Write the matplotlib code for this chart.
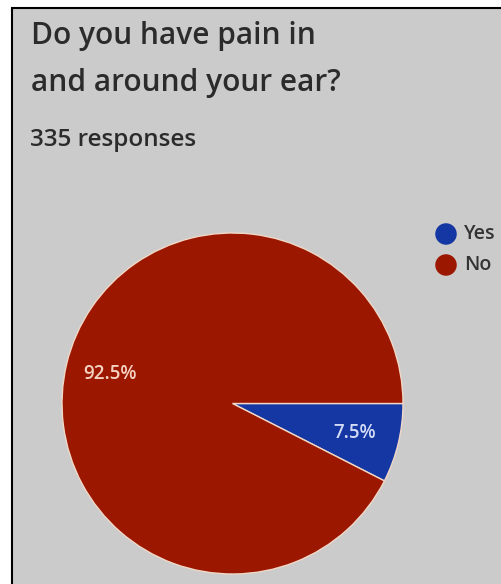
import matplotlib.pyplot as plt
from matplotlib.patches import Rectangle

# Survey answers
labels = ["Yes", "No"]
shares = [7.5, 92.5]
colors = ["#1537a3", "#9c1700"]
label_colors = ["#d3dbf6", "#f4d2c2"]

title_lines = ["Do you have pain in", "and around your ear?"]
subtitle = "335 responses"

W, H = 502, 584
fig = plt.figure(figsize=(W / 100, H / 100), dpi=100)
fig.patch.set_facecolor("white")

# Background layer in pixel units: card, headings, legend
bg = fig.add_axes([0, 0, 1, 1], zorder=0)
bg.set_xlim(0, W)
bg.set_ylim(H, 0)
bg.axis("off")
bg.add_patch(Rectangle((12, 8), W, H, facecolor="#cbcbcb",
                       edgecolor="black", linewidth=1.5))

text_kw = dict(family="Open Sans", color="#2b2b2b", va="baseline")
bg.text(31, 44, title_lines[0], fontsize=21.5, weight="semibold", **text_kw)
bg.text(31, 91, title_lines[1], fontsize=21.5, weight="semibold", **text_kw)
bg.text(30, 146, subtitle, fontsize=17.5, weight="semibold", **text_kw)

for i, (lab, col) in enumerate(zip(labels, colors)):
    y = 234 + 31 * i
    bg.scatter([446], [y], s=240, color=col, edgecolors="none")
    bg.text(464, y, lab, fontsize=14, weight="semibold", family="Open Sans",
            color="#333333", va="center")

# Pie chart, centre (232.5, 403.5), radius 170.5 px
cx, cy, r = 232.5, 403.5, 170.5
ax = fig.add_axes([(cx - r) / W, (H - cy - r) / H, 2 * r / W, 2 * r / H], zorder=1)
wedges, _, autotexts = ax.pie(
    shares, colors=colors, startangle=0, counterclock=False,
    autopct="%.1f%%", pctdistance=0.74, radius=1,
    wedgeprops=dict(edgecolor="#f0d8c8", linewidth=1.0),
    textprops=dict(fontsize=13.5, weight="semibold", family="Open Sans"),
)
for t, c in zip(autotexts, label_colors):
    t.set_color(c)
ax.set_xlim(-1, 1)
ax.set_ylim(-1, 1)
ax.set_aspect("equal")
ax.axis("off")

fig.savefig("out.png", dpi=100)
